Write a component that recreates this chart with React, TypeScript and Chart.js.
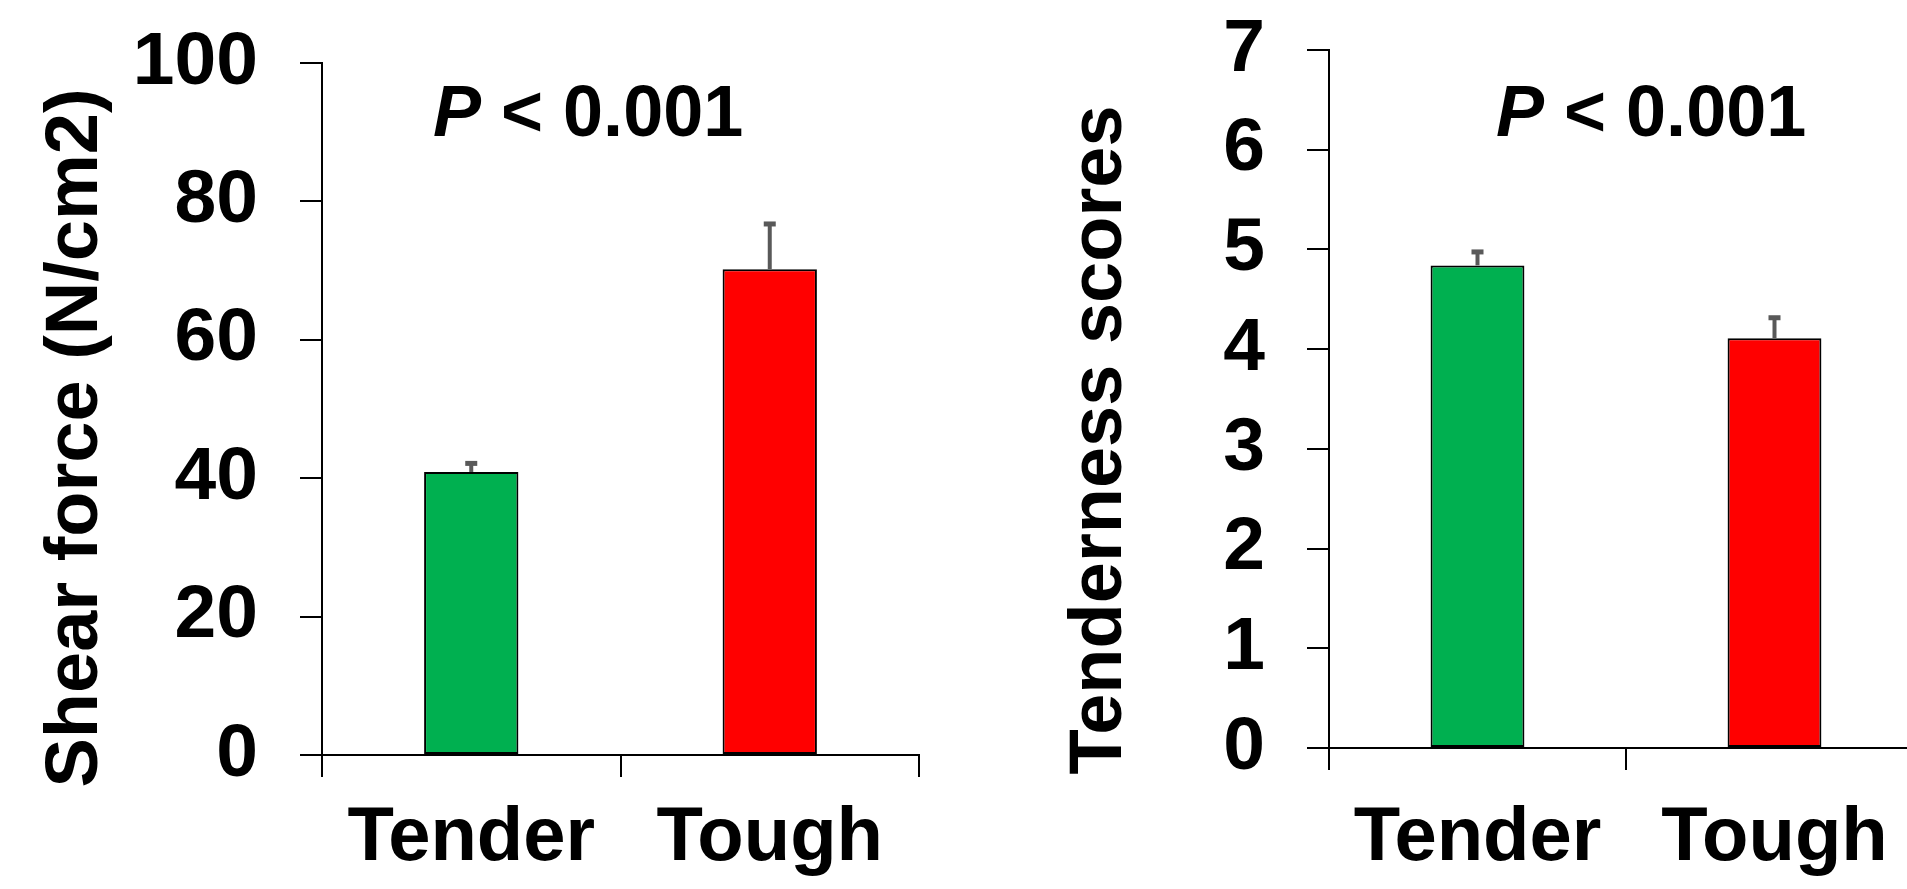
import React, { useEffect, useRef } from "react";
import { Chart, registerables } from "chart.js";

Chart.register(...registerables);

// ---------- data ----------
const categories = ["Tender", "Tough"];
const shearForce = [40.9, 70.2];
const shearForceErr = [1.6, 6.9];
const shearTicks = [0, 20, 40, 60, 80, 100];
const tenderness = [4.84, 4.11];
const tendernessErr = [0.16, 0.23];
const tenderTicks = [0, 1, 2, 3, 4, 5, 6, 7];
const barColors = ["#00B050", "#FF0000"];
const pLabelItalic = "P";
const pLabelRest = " < 0.001";
const shearTitle = "Shear force (N/cm2)";
const tenderTitle = "Tenderness scores";

const FONT = "'Liberation Sans', Arial, Helvetica, sans-serif";

const errorBarPlugin = {
  id: "errorBars",
  afterDatasetsDraw(chart: any, _args: any, opts: any) {
    const { ctx } = chart;
    const meta = chart.getDatasetMeta(0);
    const yScale = chart.scales.y;
    const vals = chart.data.datasets[0].data as number[];
    const errs: number[] = opts.errors || [];
    ctx.save();
    ctx.strokeStyle = "#595959";
    ctx.fillStyle = "#595959";
    meta.data.forEach((bar: any, i: number) => {
      const x = bar.x;
      const yTop = yScale.getPixelForValue(vals[i] + errs[i]);
      ctx.lineWidth = 4;
      ctx.beginPath();
      ctx.moveTo(x, bar.y);
      ctx.lineTo(x, yTop + 2);
      ctx.stroke();
      ctx.fillRect(x - 6, yTop, 12, 5);
    });
    ctx.restore();
  },
};

const textPlugin = {
  id: "panelText",
  afterDraw(chart: any, _args: any, opts: any) {
    const { ctx, chartArea } = chart;
    ctx.save();
    ctx.fillStyle = "#000";
    // rotated y-axis title
    ctx.save();
    ctx.translate(opts.titleX, opts.titleY);
    ctx.rotate(-Math.PI / 2);
    ctx.font = `bold 74px ${FONT}`;
    ctx.textAlign = "center";
    ctx.textBaseline = "alphabetic";
    ctx.fillText(opts.title, 0, 0);
    ctx.restore();
    // P annotation
    const px = chartArea.left + opts.pDx;
    const py = chartArea.top + opts.pDy;
    ctx.textAlign = "left";
    ctx.textBaseline = "alphabetic";
    ctx.font = `italic bold 72px ${FONT}`;
    ctx.fillText(pLabelItalic, px, py);
    const w = ctx.measureText(pLabelItalic).width;
    ctx.font = `bold 72px ${FONT}`;
    ctx.fillText(pLabelRest, px + w, py);
    ctx.restore();
  },
};

type PanelCfg = {
  values: number[];
  errors: number[];
  ticks: number[];
  title: string;
  yWidth: number;
  xHeight: number;
  padTop: number;
  padRight: number;
  xLabelPad: number;
  titleX: number;
  titleY: number;
  pDx: number;
  pDy: number;
};

function makeChart(canvas: HTMLCanvasElement, cfg: PanelCfg) {
  const tickMin = cfg.ticks[0];
  const tickMax = cfg.ticks[cfg.ticks.length - 1];
  return new Chart(canvas, {
    type: "bar",
    data: {
      labels: categories,
      datasets: [
        {
          data: cfg.values,
          backgroundColor: barColors,
          borderColor: "#000",
          borderWidth: 2,
          borderSkipped: false,
          categoryPercentage: 1,
          barPercentage: 0.316,
        },
      ],
    },
    plugins: [errorBarPlugin, textPlugin],
    options: {
      responsive: false,
      animation: false,
      devicePixelRatio: 1,
      layout: { padding: { top: cfg.padTop, right: cfg.padRight, left: 0, bottom: 0 } },
      plugins: {
        legend: { display: false },
        tooltip: { enabled: false },
        title: { display: false },
        errorBars: { errors: cfg.errors },
        panelText: {
          title: cfg.title,
          titleX: cfg.titleX,
          titleY: cfg.titleY,
          pDx: cfg.pDx,
          pDy: cfg.pDy,
        },
      } as any,
      scales: {
        x: {
          grid: {
            display: true,
            drawOnChartArea: false,
            drawTicks: true,
            tickLength: 22,
            color: "#000",
            lineWidth: 2,
            offset: true,
          },
          border: { display: true, color: "#000", width: 2 },
          ticks: {
            color: "#000",
            font: { family: FONT, size: 76, weight: "bold" },
            padding: cfg.xLabelPad,
            maxRotation: 0,
          },
          afterFit: (s: any) => {
            s.height = cfg.xHeight;
            s.paddingLeft = 0;
            s.paddingRight = 0;
          },
        },
        y: {
          min: tickMin,
          max: tickMax,
          afterBuildTicks: (s: any) => {
            s.ticks = cfg.ticks.map((v) => ({ value: v }));
          },
          grid: {
            display: true,
            drawOnChartArea: false,
            drawTicks: true,
            tickLength: 22,
            color: "#000",
            lineWidth: 2,
          },
          border: { display: true, color: "#000", width: 2 },
          ticks: {
            color: "#000",
            font: { family: FONT, size: 75, weight: "bold" },
            padding: 42,
          },
          afterFit: (s: any) => {
            s.width = cfg.yWidth;
            s.paddingTop = 0;
            s.paddingBottom = 0;
          },
        },
      },
    } as any,
  });
}

export default function App() {
  const leftRef = useRef<HTMLCanvasElement>(null);
  const rightRef = useRef<HTMLCanvasElement>(null);

  useEffect(() => {
    const left = makeChart(leftRef.current!, {
      values: shearForce,
      errors: shearForceErr,
      ticks: shearTicks,
      title: shearTitle,
      yWidth: 322,
      xHeight: 134,
      padTop: 63,
      padRight: 41,
      xLabelPad: 16,
      titleX: 97,
      titleY: 438,
      pDx: 111,
      pDy: 73,
    });
    const right = makeChart(rightRef.current!, {
      values: tenderness,
      errors: tendernessErr,
      ticks: tenderTicks,
      title: tenderTitle,
      yWidth: 369,
      xHeight: 141,
      padTop: 50,
      padRight: 17,
      xLabelPad: 23,
      titleX: 161,
      titleY: 440,
      pDx: 167,
      pDy: 86,
    });
    return () => {
      left.destroy();
      right.destroy();
    };
  }, []);

  return (
    <div
      style={{
        position: "fixed",
        left: 0,
        top: 0,
        width: 1907,
        height: 889,
        overflow: "hidden",
        background: "#fff",
      }}
    >
      <canvas
        ref={leftRef}
        width={960}
        height={889}
        style={{ position: "absolute", left: 0, top: 0, width: 960, height: 889 }}
      />
      <canvas
        ref={rightRef}
        width={980}
        height={889}
        style={{ position: "absolute", left: 960, top: 0, width: 980, height: 889 }}
      />
    </div>
  );
}
